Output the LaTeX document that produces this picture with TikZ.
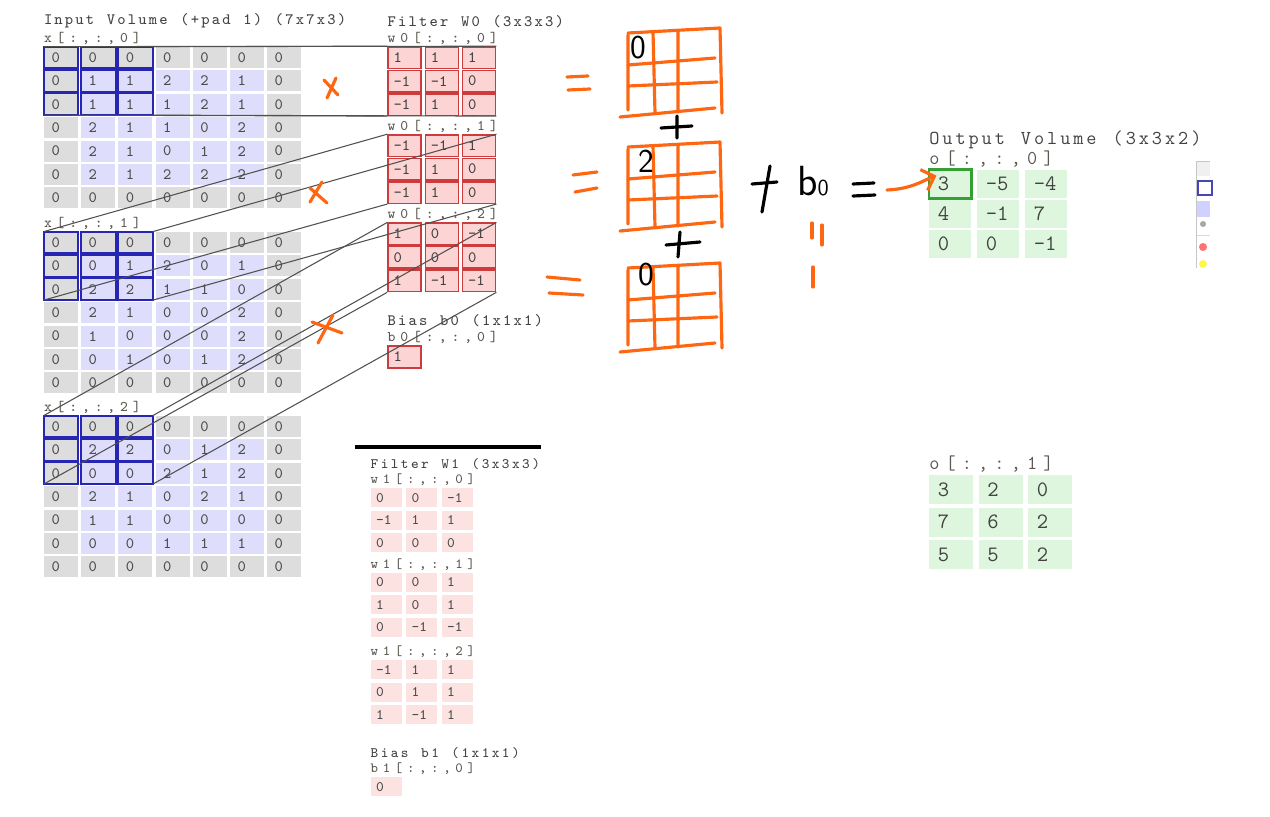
\documentclass[tikz,border=0pt]{standalone}
\usetikzlibrary{arrows.meta, positioning}
\definecolor{padGray}{RGB}{221,221,221}
\definecolor{inLilac}{RGB}{222,222,252}
\definecolor{winBlue}{RGB}{38,38,178}
\definecolor{filtRed}{RGB}{204,60,60}
\definecolor{filtFill}{RGB}{252,212,212}
\definecolor{softPink}{RGB}{253,226,226}
\definecolor{outGreen}{RGB}{221,246,221}
\definecolor{frameGreen}{RGB}{52,160,52}
\definecolor{inkOrange}{RGB}{255,102,17}
\definecolor{darkText}{RGB}{66,66,66}
\definecolor{lblText}{RGB}{92,88,80}
\definecolor{cellText}{RGB}{76,76,76}
\definecolor{wireGray}{RGB}{80,80,80}

% spread the letters of a label over a fixed pitch
\makeatletter
\newcommand{\spaced}[2]{\@tfor\sp@ch:=#2\do{\makebox[#1][l]{\sp@ch}}}
\makeatother
\newcommand{\ttlfont}{\ttfamily\fontsize{9}{10}\selectfont}
\newcommand{\lblfont}{\ttfamily\fontsize{8.4}{9}\selectfont}
\newcommand{\numfont}{\ttfamily\fontsize{9}{10}\selectfont}
\newcommand{\wttlfont}{\ttfamily\fontsize{8.2}{9}\selectfont}
\newcommand{\wlblfont}{\ttfamily\fontsize{8}{9}\selectfont}
\newcommand{\wnumfont}{\ttfamily\fontsize{8.3}{9}\selectfont}
\newcommand{\ottlfont}{\ttfamily\fontsize{11.2}{12}\selectfont}
\newcommand{\onumfont}{\ttfamily\fontsize{12.5}{14}\selectfont}
\newcommand{\handfont}{\sffamily\fontsize{19}{20}\selectfont}

\tikzset{
    incell/.style={
        rectangle,
        minimum width=0.68cm,
        minimum height=0.42cm,
        inner xsep=0.15cm, inner ysep=0pt,
        text width=0.38cm,
        align=left,
        font=\numfont,
        text=cellText
    },
    winframe/.style={draw=winBlue, line width=1.1pt},
    wcell/.style={
        rectangle,
        fill=filtFill,
        draw=filtRed,
        line width=0.9pt,
        minimum width=0.66cm,
        minimum height=0.43cm,
        inner xsep=0.11cm, inner ysep=0pt,
        text width=0.44cm,
        align=left,
        font=\numfont,
        text=darkText
    },
    pcell/.style={
        rectangle,
        fill=softPink,
        minimum width=0.62cm,
        minimum height=0.38cm,
        inner xsep=0.11cm, inner ysep=0pt,
        text width=0.4cm,
        align=left,
        font=\wnumfont,
        text=cellText
    },
    ocell/.style={
        rectangle,
        fill=outGreen,
        minimum width=0.84cm,
        minimum height=0.56cm,
        inner xsep=0.17cm, inner ysep=0pt,
        text width=0.5cm,
        align=left,
        font=\onumfont,
        text=darkText
    },
    ocellb/.style={ocell, minimum width=0.88cm, minimum height=0.58cm, text width=0.54cm},
    lbl/.style={inner sep=0pt, font=\lblfont, text=lblText},
    ttl/.style={inner sep=0pt, font=\ttlfont, text=darkText},
    wire/.style={draw=wireGray, line width=0.6pt},
    ink/.style={draw=inkOrange, line width=1.8pt, line cap=round, line join=round},
    pen/.style={draw=black, line width=1.8pt, line cap=round},
    handnum/.style={inner sep=0pt, font=\handfont, text=black}
}

% 7x7 padded slice, window frame on the top-left 3x3
\newcommand{\volgrid}[3]{%
    \foreach \row [count=\i from 0] in {#3} {
        \foreach \v [count=\j from 0] in \row {
            \pgfmathtruncatemacro\padflag{(\i==0)||(\i==6)||(\j==0)||(\j==6)}
            \ifnum\padflag=1 \def\cellfill{padGray}\else\def\cellfill{inLilac}\fi
            \node[incell, fill=\cellfill] (#1-\i-\j) at ({61+37.2*\j},{#2+10.5+23.4*\i}) {\v};
        }
    }
    \foreach \i in {0,1,2} {\foreach \j in {0,1,2} {
        \draw[winframe] (#1-\i-\j.north west) rectangle (#1-\i-\j.south east);}}
}
% style, name, x, y, dx, dy, rows
\newcommand{\cellgrid}[7]{%
    \foreach \row [count=\i from 0] in {#7} {
        \foreach \v [count=\j from 0] in \row {
            \node[#1] (#2-\i-\j) at ({#3+#5*\j},{#4+#6*\i}) {\v};
        }
    }
}

\begin{document}
\begin{tikzpicture}[x=0.02cm, y=-0.02cm]
    \useasboundingbox (0,0) rectangle (1270,817);
    \fill[white] (0,0) rectangle (1270,817);

    % input volume
    \volgrid{in0}{47}{{0,0,0,0,0,0,0},{0,1,1,2,2,1,0},{0,1,1,1,2,1,0},{0,2,1,1,0,2,0},{0,2,1,0,1,2,0},{0,2,1,2,2,2,0},{0,0,0,0,0,0,0}}
    \volgrid{in1}{232}{{0,0,0,0,0,0,0},{0,0,1,2,0,1,0},{0,2,2,1,1,0,0},{0,2,1,0,0,2,0},{0,1,0,0,0,2,0},{0,0,1,0,1,2,0},{0,0,0,0,0,0,0}}
    \volgrid{in2}{416}{{0,0,0,0,0,0,0},{0,2,2,0,1,2,0},{0,0,0,2,1,2,0},{0,2,1,0,2,1,0},{0,1,1,0,0,0,0},{0,0,0,1,1,1,0},{0,0,0,0,0,0,0}}
    \node[lbl, above right=1pt and 0pt of in0-0-0.north west] (in0-lbl) {\spaced{0.254cm}{x[:,:,0]}};
    \node[lbl, above right=1pt and 0pt of in1-0-0.north west] (in1-lbl) {\spaced{0.254cm}{x[:,:,1]}};
    \node[lbl, above right=1pt and 0pt of in2-0-0.north west] (in2-lbl) {\spaced{0.254cm}{x[:,:,2]}};
    \node[ttl, above right=2pt and 0pt of in0-lbl.north west] (in-ttl) {\spaced{0.21cm}{Input~Volume~(+pad~1)~(7x7x3)}};

    % filter W0 and bias b0
    \cellgrid{wcell}{w0l0}{404.5}{57.75}{37.3}{23.4}{{1,1,1},{-1,-1,0},{-1,1,0}}
    \cellgrid{wcell}{w0l1}{404.5}{145.75}{37.3}{23.4}{{-1,-1,1},{-1,1,0},{-1,1,0}}
    \cellgrid{wcell}{w0l2}{404.5}{234}{37.3}{23.4}{{1,0,-1},{0,0,0},{1,-1,-1}}
    \node[wcell] (b0cell) at (404.5,357) {1};
    \node[lbl, above right=1pt and 0pt of w0l0-0-0.north west] (w0l0-lbl) {\spaced{0.256cm}{w0[:,:,0]}};
    \node[lbl, above right=1pt and 0pt of w0l1-0-0.north west] (w0l1-lbl) {\spaced{0.256cm}{w0[:,:,1]}};
    \node[lbl, above right=1pt and 0pt of w0l2-0-0.north west] (w0l2-lbl) {\spaced{0.256cm}{w0[:,:,2]}};
    \node[lbl, above right=1pt and 0pt of b0cell.north west] (b0-lbl) {\spaced{0.256cm}{b0[:,:,0]}};
    \node[ttl, above right=2pt and 0pt of w0l0-lbl.north west] (w0-ttl) {\spaced{0.21cm}{Filter~W0~(3x3x3)}};
    \node[ttl, above right=2pt and 0pt of b0-lbl.north west] (b0-ttl) {\spaced{0.21cm}{Bias~b0~(1x1x1)}};

    % window corners to filter corners
    \foreach \k in {0,1,2} {
        \draw[wire] (in\k-0-0.north west) -- (w0l\k-0-0.north west);
        \draw[wire] (in\k-0-2.north east) -- (w0l\k-0-2.north east);
        \draw[wire] (in\k-2-0.south west) -- (w0l\k-2-0.south west);
        \draw[wire] (in\k-2-2.south east) -- (w0l\k-2-2.south east);
    }

    % filter W1 and bias b1
    \draw[line width=2.6pt] (355,447) -- (541,447);
    \cellgrid{pcell}{w1l0}{386.2}{497.8}{35.5}{22.5}{{0,0,-1},{-1,1,1},{0,0,0}}
    \cellgrid{pcell}{w1l1}{386.2}{582.2}{35.5}{22.5}{{0,0,1},{1,0,1},{0,-1,-1}}
    \cellgrid{pcell}{w1l2}{386.2}{669.5}{35.5}{22.7}{{-1,1,1},{0,1,1},{1,-1,1}}
    \node[pcell] (b1cell) at (386.2,786.7) {0};
    \node[lbl, font=\wlblfont, above right=1pt and 0pt of w1l0-0-0.north west] (w1l0-lbl) {\spaced{0.242cm}{w1[:,:,0]}};
    \node[lbl, font=\wlblfont, above right=1pt and 0pt of w1l1-0-0.north west] (w1l1-lbl) {\spaced{0.242cm}{w1[:,:,1]}};
    \node[lbl, font=\wlblfont, above right=1pt and 0pt of w1l2-0-0.north west] (w1l2-lbl) {\spaced{0.242cm}{w1[:,:,2]}};
    \node[lbl, font=\wlblfont, above right=1pt and 0pt of b1cell.north west] (b1-lbl) {\spaced{0.242cm}{b1[:,:,0]}};
    \node[ttl, font=\wttlfont, above right=2pt and 0pt of w1l0-lbl.north west] (w1-ttl) {\spaced{0.202cm}{Filter~W1~(3x3x3)}};
    \node[ttl, font=\wttlfont, above right=2pt and 0pt of b1-lbl.north west] (b1-ttl) {\spaced{0.202cm}{Bias~b1~(1x1x1)}};

    % output volume
    \cellgrid{ocell}{out0}{950.3}{184}{48}{30}{{3,-5,-4},{4,-1,7},{0,0,-1}}
    \cellgrid{ocellb}{out1}{951.3}{489.5}{49.5}{32.5}{{3,2,0},{7,6,2},{5,5,2}}
    \draw[draw=frameGreen, line width=1.4pt] (out0-0-0.north west) rectangle (out0-0-0.south east);
    \node[lbl, font=\ottlfont, above right=1pt and 0pt of out0-0-0.north west] (out0-lbl) {\spaced{0.326cm}{o[:,:,0]}};
    \node[lbl, font=\ottlfont, above right=1pt and 0pt of out1-0-0.north west] (out1-lbl) {\spaced{0.326cm}{o[:,:,1]}};
    \node[ttl, font=\ottlfont, above right=1pt and 0pt of out0-lbl.north west] (out-ttl) {\spaced{0.262cm}{Output~Volume~(3x3x2)}};

    % bit of another window at the right edge
    \fill[gray!12] (1197,162) rectangle (1210,176);
    \draw[gray!45, line width=0.5pt] (1196,268) -- (1196,161) -- (1210,161);
    \draw[blue!45!gray, line width=0.8pt] (1198,181) rectangle (1212,195);
    \fill[blue!18] (1197,201) rectangle (1210,217);
    \fill[gray!70] (1203,224) circle (3);
    \draw[gray!30] (1197,235) -- (1210,235);
    \fill[red!55] (1203,247) circle (4);
    \fill[yellow!70] (1203,264) circle (4);

    % handwritten working
    \draw[ink] (324,80) -- (338,95) (336,78) -- (327,98);
    \draw[ink] (322,182) -- (310,202) (310,188) -- (327,203);
    \draw[ink] (333,315) -- (318,343) (312,322) -- (342,333);
    \draw[ink] (567,77) -- (588,76) (568,90) -- (590,89);
    \draw[ink] (573,175) -- (597,172) (575,192) -- (597,188);
    \draw[ink] (547,277) -- (580,280) (549,293) -- (583,295);
    \foreach \dy in {0,114,235} {
        \begin{scope}[shift={(0,\dy)}]
            \draw[ink] (628,33) -- (720,28) -- (722,113);
            \draw[ink] (628,35) -- (628,110) (653,32) -- (655,113) (678,32) -- (678,112);
            \draw[ink] (628,65) -- (715,58) (628,86) -- (717,82) (620,117) -- (715,108);
        \end{scope}
    }
    \node[handnum] (sum0) at (638,48) {0};
    \node[handnum] (sum1) at (646,161) {2};
    \node[handnum] (sum2) at (646,275) {0};
    \draw[pen] (677,116) -- (677,138) (661,128) -- (692,126);
    \draw[pen] (680,232) -- (678,257) (666,245) -- (700,242);
    \draw[pen] (770,166) -- (762,212) (752,184) -- (777,182);
    \node[handnum, font=\sffamily\fontsize{24}{24}\selectfont] (bias) at (813,181) {b{\fontsize{13}{13}\selectfont 0}};
    \draw[pen] (853,184) -- (874,183) (853,196) -- (875,195);
    \draw[ink] (812,223) -- (812,238) (822,225) -- (822,245) (813,267) -- (813,287);
    \coordinate (arrowtail) at (887,190);
    \draw[ink, -{Straight Barb[length=2.2mm]}] (arrowtail) .. controls (912,189) and (924,180) .. ([xshift=0.15cm, yshift=-0.12cm]out0-0-0.north west);
\end{tikzpicture}
\end{document}
